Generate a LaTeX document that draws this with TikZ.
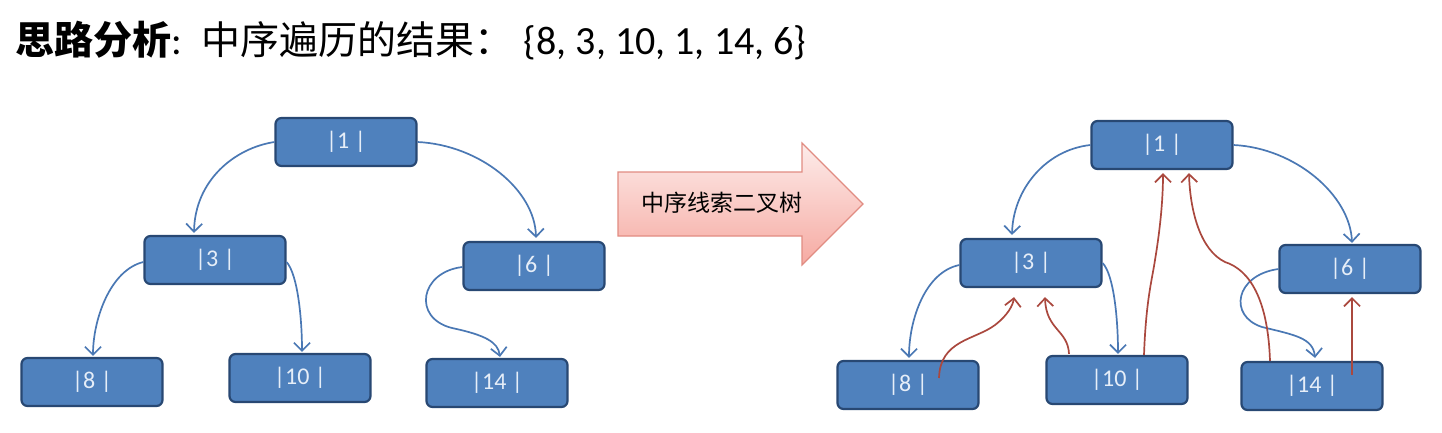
\documentclass[tikz,border=0pt]{standalone}
\usepackage{fontspec}
\setmainfont{Carlito}
\newfontfamily\cjk{Noto Sans CJK SC}
\newfontfamily\lat{Carlito}
\usetikzlibrary{arrows.meta,calc}
\definecolor{nodefill}{RGB}{79,129,189}
\definecolor{nodedraw}{RGB}{40,72,115}
\definecolor{nodetext}{RGB}{230,238,248}
\definecolor{treeblue}{RGB}{74,120,180}
\definecolor{threadred}{RGB}{170,72,62}
\definecolor{arrowdraw}{RGB}{225,140,130}
\definecolor{arrowtop}{RGB}{253,236,234}
\definecolor{arrowbot}{RGB}{246,170,162}
\tikzset{
  treenode/.style={draw=nodedraw, fill=nodefill, line width=2.2pt, rounded corners=6pt,
    minimum width=141pt, minimum height=48pt, inner sep=0pt,
    text=nodetext, font=\lat\fontsize{24}{24}\selectfont},
  childedge/.style={draw=treeblue, line width=1.7pt, -{Straight Barb[length=8pt,width=16pt,line width=1.7pt]}},
  threadedge/.style={draw=threadred, line width=1.7pt, -{Straight Barb[length=8pt,width=16pt,line width=1.7pt]}},
}
\newcommand{\lbl}[1]{#1\hspace{16pt}}
\begin{document}
\begin{tikzpicture}[x=1pt,y=-1pt]
\useasboundingbox (0,0) rectangle (1442,432);
\fill[white] (0,0) rectangle (1442,432);

% title
\node[anchor=base west, inner sep=0pt] (title) at (15,54)
  {{\cjk\fontsize{39}{39}\selectfont\bfseries 思路分析}{\lat\fontsize{40}{40}\selectfont :\hspace{20pt}}{\cjk\fontsize{39}{39}\selectfont 中序遍历的结果：}{\lat\fontsize{40}{40}\selectfont\hspace{10pt}\{8, 3, 10, 1, 14, 6\}}};

% big arrow
\path[draw=arrowdraw, line width=1.2pt, top color=arrowtop, bottom color=arrowbot]
  (618,172) -- (802,172) -- (802,143) -- (863,204) -- (802,265) -- (802,236) -- (618,236) -- cycle;
\node[font=\cjk\fontsize{23}{23}\selectfont, text=black] (arrowlabel) at (722,203) {中序线索二叉树};

% left tree
\node[treenode] (L1) at (346,142) {\lbl{|1 |}};
\node[treenode] (L3) at (215,260) {\lbl{|3 |}};
\node[treenode] (L6) at (534,266) {\lbl{|6 |}};
\node[treenode] (L8) at (92,382) {\lbl{|8 |}};
\node[treenode] (L10) at (300,378) {\lbl{|10 |}};
\node[treenode] (L14) at (497,383) {\lbl{|14 |}};

\draw[childedge] (L1.west) .. controls (235,148) and (195,180) .. ($(L3.north)+(-21,-2)$);
\draw[childedge] (L1.east) .. controls (480,145) and (535,190) .. ($(L6.north)+(2,-3)$);
\draw[childedge] ($(L3.west)+(0,2)$) .. controls (110,270) and (93,320) .. ($(L8.north)+(1,-1)$);
\draw[childedge] ($(L3.east)+(0,2)$) .. controls (298,275) and (302,320) .. ($(L10.north)+(2,-1)$);
\draw[childedge] ($(L6.west)+(0,1)$) .. controls (420,272) and (412,318) .. (452,328) .. controls (485,335) and (498,342) .. ($(L14.north)+(3,-1)$);

% right tree
\node[treenode] (R1) at (1162,145) {\lbl{|1 |}};
\node[treenode] (R3) at (1031,263) {\lbl{|3 |}};
\node[treenode] (R6) at (1350,269) {\lbl{|6 |}};
\node[treenode] (R8) at (908,385) {\lbl{|8 |}};
\node[treenode] (R10) at (1117,380) {\lbl{|10 |}};
\node[treenode] (R14) at (1312,386) {\lbl{|14 |}};

\draw[childedge] (R1.west) .. controls (1045,150) and (1013,190) .. ($(R3.north)+(-19,-3)$);
\draw[childedge] (R1.east) .. controls (1295,148) and (1350,195) .. ($(R6.north)+(2,-1)$);
\draw[childedge] ($(R3.west)+(0,2)$) .. controls (925,272) and (909,320) .. ($(R8.north)+(1,-2)$);
\draw[childedge] (R3.east) .. controls (1114,275) and (1118,320) .. ($(R10.north)+(1,-1)$);
\draw[childedge] (R6.west) .. controls (1235,275) and (1228,316) .. (1262,327) .. controls (1295,335) and (1313,338) .. ($(R14.north)+(3,-3)$);

% threads
\draw[threadedge] ($(R8.center)+(31,-7)$) .. controls (940,340) and (975,340) .. (995,325) .. controls (1008,315) and (1013,305) .. ($(R3.south)+(-17,9)$);
\draw[threadedge] ($(R10.north)+(-48,-1)$) .. controls (1068,330) and (1046,330) .. ($(R3.south)+(14,9)$);
\draw[threadedge] ($(R10.north)+(27,0)$) .. controls (1146,300) and (1152,280) .. (1155,260) .. controls (1160,230) and (1163,200) .. ($(R1.south)+(1,3)$);
\draw[threadedge] ($(R14.north)+(-42,0)$) .. controls (1268,300) and (1250,270) .. (1225,262) .. controls (1200,250) and (1190,210) .. ($(R1.south)+(27,3)$);
\draw[threadedge] ($(R14.center)+(40,-11)$) -- ($(R6.south)+(2,3)$);
\end{tikzpicture}
\end{document}
